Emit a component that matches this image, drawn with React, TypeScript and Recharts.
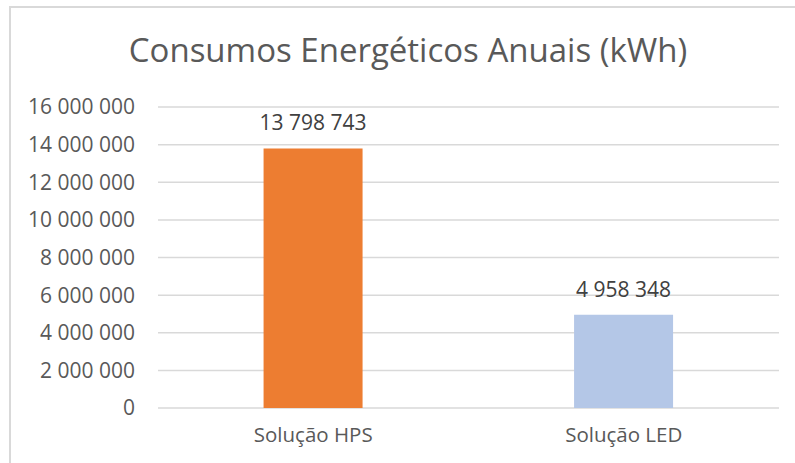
import React from "react";
import { BarChart, Bar, XAxis, YAxis, CartesianGrid, LabelList, Cell } from "recharts";

const categories = ["Solução HPS", "Solução LED"];
const consumos = [13798743, 4958348];
const barColors = ["#ED7D31", "#B4C7E7"];
const yTicks = [0, 2000000, 4000000, 6000000, 8000000, 10000000, 12000000, 14000000, 16000000];

const fmt = (v: number) => Math.round(v).toString().replace(/\B(?=(\d{3})+(?!\d))/g, " ");

const data = categories.map((name, i) => ({ name, value: consumos[i] }));

const font = "'Open Sans', 'Noto Sans', sans-serif";

const App: React.FC = () => {
  return (
    <div style={{ position: "fixed", left: 0, top: 0, width: 795, height: 463, overflow: "hidden", background: "#fff", fontFamily: font }}>
      <div
        style={{
          position: "absolute",
          left: 9,
          top: 6,
          width: 820,
          height: 520,
          border: "2px solid #d9d9d9",
        }}
      />
      <div
        style={{
          position: "absolute",
          left: 0,
          width: 816,
          top: 27,
          textAlign: "center",
          fontSize: 33,
          color: "#595959",
          lineHeight: "46px",
        }}
      >
        Consumos Energéticos Anuais (kWh)
      </div>
      <div style={{ position: "absolute", left: 0, top: 0 }}>
        <BarChart
          width={795}
          height={463}
          data={data}
          margin={{ top: 107, right: 16, bottom: 0, left: 0 }}
          barCategoryGap="34%"
        >
          <CartesianGrid vertical={false} stroke="#d9d9d9" strokeWidth={1.5} />
          <XAxis
            dataKey="name"
            height={55}
            axisLine={false}
            tickLine={false}
            tickSize={0}
            tickMargin={19}
            tick={{ fill: "#595959", fontSize: 20.5, fontFamily: font }}
          />
          <YAxis
            width={158}
            domain={[0, 16000000]}
            ticks={yTicks}
            interval={0}
            tickFormatter={fmt}
            axisLine={false}
            tickLine={false}
            tickSize={0}
            tickMargin={23}
            tick={{ fill: "#595959", fontSize: 21, fontFamily: font }}
          />
          <Bar dataKey="value" isAnimationActive={false}>
            {data.map((d, i) => (
              <Cell key={d.name} fill={barColors[i]} />
            ))}
            <LabelList
              dataKey="value"
              position="top"
              offset={18}
              formatter={(v: number) => fmt(v)}
              style={{ fill: "#404040", fontSize: 21, fontFamily: font }}
            />
          </Bar>
        </BarChart>
      </div>
    </div>
  );
};

export default App;
